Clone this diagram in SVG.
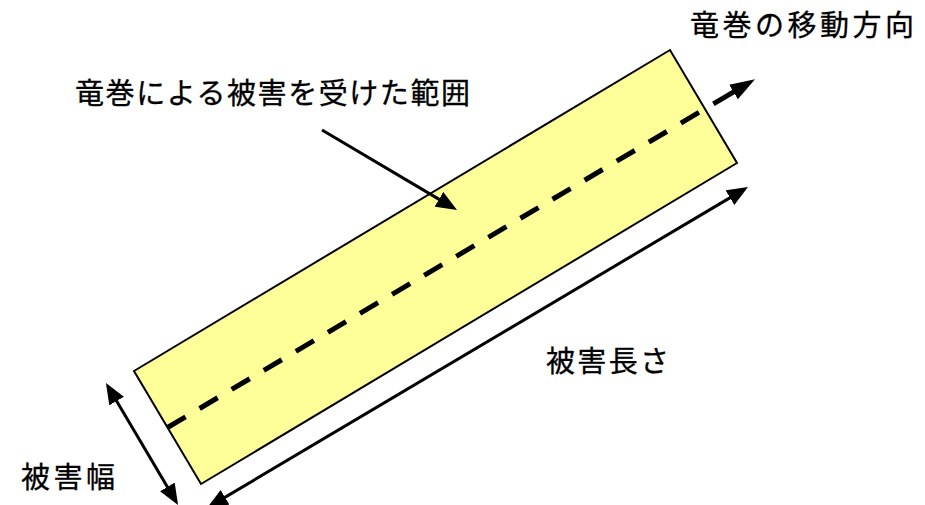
<svg xmlns="http://www.w3.org/2000/svg" width="925" height="505" viewBox="0 0 925 505">
  <style>
    .lbl { font-family: "Noto Sans CJK JP", "Noto Sans", sans-serif; font-size: 29px; fill: #000; stroke: #000; stroke-width: 0.3; }
    .conn { stroke: #000; stroke-width: 3; fill: none; }
  </style>
  <defs>
    <marker id="ah" viewBox="0 0 21 17" refX="14" refY="8.5" markerWidth="21" markerHeight="17" markerUnits="userSpaceOnUse" orient="auto-start-reverse">
      <path d="M0,0 L21,8.5 L0,17 z" fill="#000"/>
    </marker>
    <marker id="ahBig" viewBox="0 0 25 17" refX="15" refY="8.5" markerWidth="25" markerHeight="17" markerUnits="userSpaceOnUse" orient="auto">
      <path d="M0,0 L25,8.5 L0,17 z" fill="#000"/>
    </marker>
  </defs>
  <rect width="925" height="505" fill="#fff"/>

  <g id="damage-area">
    <polygon points="134,371 670,50 737,163 201,484" fill="#FFFF99" stroke="#000" stroke-width="2" stroke-linejoin="miter"/>
  </g>

  <g id="connectors">
    <g id="path-direction" transform="translate(167.5 427.5) rotate(-30.66)">
      <line x1="0" y1="0" x2="628" y2="0" stroke="#000" stroke-width="5" stroke-dasharray="21 16.3"/>
      <line x1="634.6" y1="0" x2="673" y2="0" stroke="#000" stroke-width="5" marker-end="url(#ahBig)"/>
    </g>
    <line id="pointer" class="conn" x1="322" y1="130" x2="451" y2="206.4" marker-end="url(#ah)"/>
    <line id="width-dim" class="conn" x1="109.5" y1="389" x2="174.5" y2="499" marker-start="url(#ah)" marker-end="url(#ah)"/>
    <line id="length-dim" class="conn" x1="213" y1="504.4" x2="742" y2="190.6" marker-start="url(#ah)" marker-end="url(#ah)"/>
  </g>

  <g id="label-direction">
    <text class="lbl" x="690" y="36" textLength="224">竜巻の移動方向</text>
  </g>
  <g id="label-area">
    <text class="lbl" x="75" y="104" textLength="395">竜巻による被害を受けた範囲</text>
  </g>
  <g id="label-length">
    <text class="lbl" x="546" y="372" textLength="123">被害長さ</text>
  </g>
  <g id="label-width">
    <text class="lbl" x="21" y="488" textLength="94">被害幅</text>
  </g>
</svg>
